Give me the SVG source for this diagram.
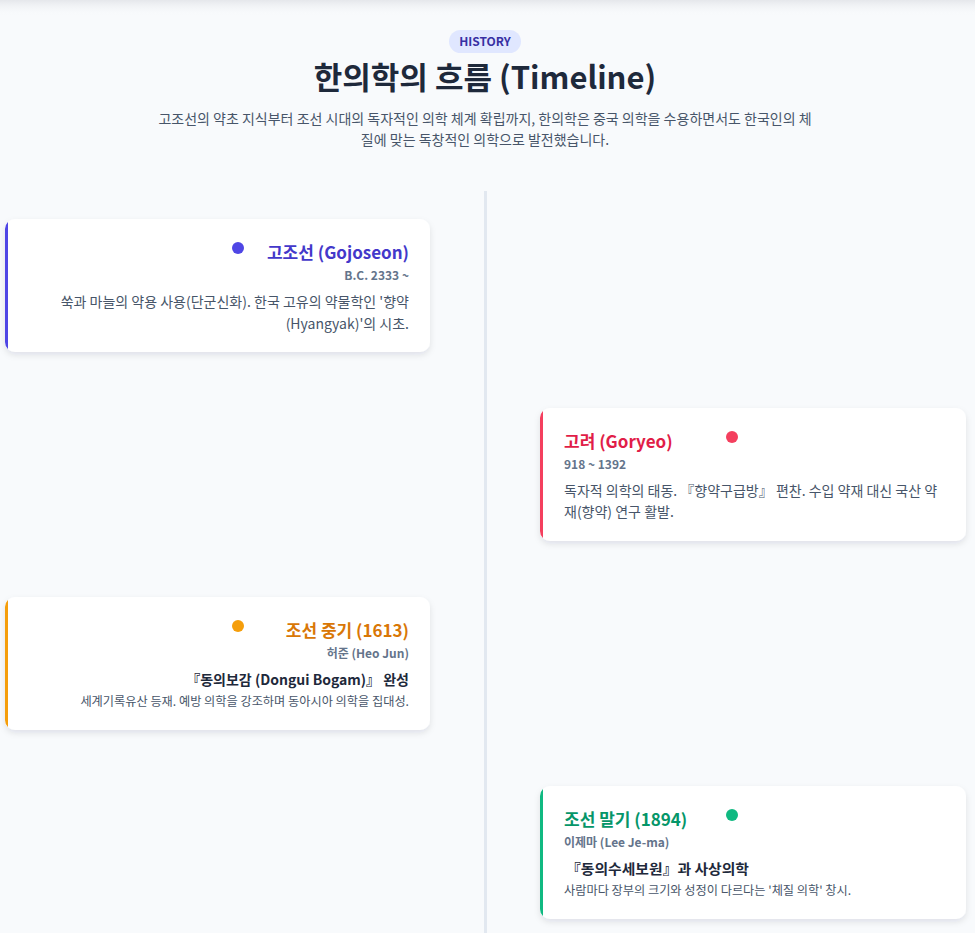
<svg xmlns="http://www.w3.org/2000/svg" width="975" height="933" viewBox="0 0 975 933">
<defs>
<linearGradient id="topshade" x1="0" y1="0" x2="0" y2="1">
<stop offset="0" stop-color="#e5e7eb"/>
<stop offset="1" stop-color="#f8fafc" stop-opacity="0"/>
</linearGradient>
<filter id="sh" x="-10%" y="-15%" width="120%" height="140%">
<feDropShadow dx="0" dy="3" stdDeviation="3" flood-color="#0f172a" flood-opacity="0.10"/>
</filter>
<clipPath id="c1"><rect x="5" y="219" width="425" height="133" rx="10"/></clipPath>
<clipPath id="c2"><rect x="540" y="408" width="426" height="133" rx="10"/></clipPath>
<clipPath id="c3"><rect x="5" y="597" width="425" height="133" rx="10"/></clipPath>
<clipPath id="c4"><rect x="540" y="786" width="426" height="133" rx="10"/></clipPath>
</defs>
<style>
text{font-family:"Noto Sans CJK KR","Noto Sans",sans-serif}
.card{fill:#ffffff;filter:url(#sh)}
.title{font-size:17px;font-weight:700}
.meta{font-size:12px;font-weight:700;fill:#64748b}
.desc{font-size:14px;fill:#475569}
.bold{font-size:14px;font-weight:700;fill:#1e293b}
.small{font-size:12.2px;fill:#475569}
.r{text-anchor:end}
</style>
<rect width="975" height="933" fill="#f8fafc"/>
<rect width="975" height="16" fill="url(#topshade)"/>

<g id="header">
<rect x="449" y="30" width="72" height="23" rx="11.5" fill="#e0e7ff"/>
<text x="485" y="46" text-anchor="middle" font-size="12" font-weight="700" fill="#3730a3">HISTORY</text>
<text x="485" y="89" text-anchor="middle" font-size="31" font-weight="700" fill="#1e293b">한의학의 흐름 (Timeline)</text>
<text x="485" y="124" text-anchor="middle" font-size="14" fill="#475569">고조선의 약초 지식부터 조선 시대의 독자적인 의학 체계 확립까지, 한의학은 중국 의학을 수용하면서도 한국인의 체</text>
<text x="485" y="145" text-anchor="middle" font-size="14" fill="#475569">질에 맞는 독창적인 의학으로 발전했습니다.</text>
</g>

<g id="connectors">
<rect x="484" y="191" width="3" height="742" fill="#e2e8f0"/>
</g>

<g id="gojoseon">
<rect class="card" x="5" y="219" width="425" height="133" rx="10"/>
<rect x="5" y="219" width="3" height="133" fill="#4f46e5" clip-path="url(#c1)"/>
<circle cx="238" cy="248" r="6" fill="#4f46e5"/>
<text class="title r" x="409" y="259" fill="#4338ca">고조선 (Gojoseon)</text>
<text class="meta r" x="409" y="280">B.C. 2333 ~</text>
<text class="desc r" x="409" y="307">쑥과 마늘의 약용 사용(단군신화). 한국 고유의 약물학인 '향약</text>
<text class="desc r" x="409" y="329">(Hyangyak)'의 시초.</text>
</g>

<g id="goryeo">
<rect class="card" x="540" y="408" width="426" height="133" rx="10"/>
<rect x="540" y="408" width="3" height="133" fill="#f43f5e" clip-path="url(#c2)"/>
<circle cx="732" cy="437" r="6" fill="#f43f5e"/>
<text class="title" x="564" y="448" fill="#e11d48">고려 (Goryeo)</text>
<text class="meta" x="564" y="469">918 ~ 1392</text>
<text class="desc" x="564" y="496">독자적 의학의 태동. 『향약구급방』 편찬. 수입 약재 대신 국산 약</text>
<text class="desc" x="564" y="517">재(향약) 연구 활발.</text>
</g>

<g id="joseon-mid">
<rect class="card" x="5" y="597" width="425" height="133" rx="10"/>
<rect x="5" y="597" width="3" height="133" fill="#f59e0b" clip-path="url(#c3)"/>
<circle cx="238" cy="626" r="6" fill="#f59e0b"/>
<text class="title r" x="409" y="637" fill="#d97706">조선 중기 (1613)</text>
<text class="meta r" x="409" y="658">허준 (Heo Jun)</text>
<text class="bold r" x="409" y="685">『동의보감 (Dongui Bogam)』 완성</text>
<text class="small r" x="409" y="706">세계기록유산 등재. 예방 의학을 강조하며 동아시아 의학을 집대성.</text>
</g>

<g id="joseon-late">
<rect class="card" x="540" y="786" width="426" height="133" rx="10"/>
<rect x="540" y="786" width="3" height="133" fill="#10b981" clip-path="url(#c4)"/>
<circle cx="732" cy="815" r="6" fill="#10b981"/>
<text class="title" x="564" y="826" fill="#059669">조선 말기 (1894)</text>
<text class="meta" x="564" y="847">이제마 (Lee Je-ma)</text>
<text class="bold" x="566" y="874" textLength="183" lengthAdjust="spacingAndGlyphs">『동의수세보원』과 사상의학</text>
<text class="small" x="564" y="895">사람마다 장부의 크기와 성정이 다르다는 '체질 의학' 창시.</text>
</g>
</svg>
